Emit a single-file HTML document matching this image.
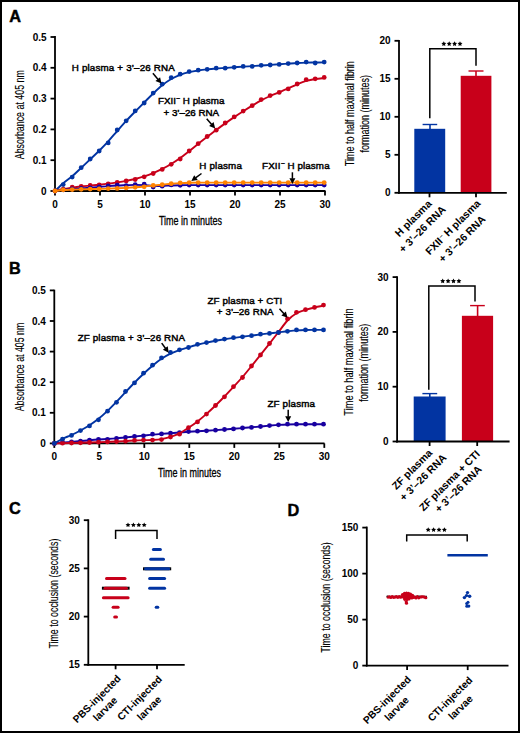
<!DOCTYPE html>
<html><head><meta charset="utf-8"><style>
html,body{margin:0;padding:0;background:#fff;width:520px;height:736px;overflow:hidden}
svg{display:block;font-family:"Liberation Sans",sans-serif}
.m{stroke:#000;stroke-width:0.45px}
.m2{stroke:#000;stroke-width:0.12px}
.m3{stroke:#000;stroke-width:0.3px}
</style></head><body>
<svg width="520" height="736" viewBox="0 0 520 736" font-family="Liberation Sans, sans-serif">
<rect x="0" y="0" width="520" height="736" fill="#fff"/>
<rect x="1" y="1" width="518" height="731" fill="none" stroke="#000" stroke-width="2"/>
<text x="9.30" y="21.60" font-size="16.30" text-anchor="start" font-weight="bold" class="m" fill="#000">A</text>
<text x="9.00" y="273.60" font-size="16.30" text-anchor="start" font-weight="bold" class="m" fill="#000">B</text>
<text x="9.00" y="514.40" font-size="16.30" text-anchor="start" font-weight="bold" class="m" fill="#000">C</text>
<text x="287.50" y="515.50" font-size="16.30" text-anchor="start" font-weight="bold" class="m" fill="#000">D</text>
<line x1="55.00" y1="36.10" x2="55.00" y2="191.90" stroke="#000" stroke-width="1.80"/>
<line x1="50.50" y1="191.00" x2="55.00" y2="191.00" stroke="#000" stroke-width="1.80"/>
<text x="46.40" y="194.50" font-size="10.00" text-anchor="end" font-weight="bold" letter-spacing="-0.10"  fill="#000">0</text>
<line x1="50.50" y1="160.20" x2="55.00" y2="160.20" stroke="#000" stroke-width="1.80"/>
<text x="46.40" y="163.70" font-size="10.00" text-anchor="end" font-weight="bold" letter-spacing="-0.10"  fill="#000">0.1</text>
<line x1="50.50" y1="129.40" x2="55.00" y2="129.40" stroke="#000" stroke-width="1.80"/>
<text x="46.40" y="132.90" font-size="10.00" text-anchor="end" font-weight="bold" letter-spacing="-0.10"  fill="#000">0.2</text>
<line x1="50.50" y1="98.60" x2="55.00" y2="98.60" stroke="#000" stroke-width="1.80"/>
<text x="46.40" y="102.10" font-size="10.00" text-anchor="end" font-weight="bold" letter-spacing="-0.10"  fill="#000">0.3</text>
<line x1="50.50" y1="67.80" x2="55.00" y2="67.80" stroke="#000" stroke-width="1.80"/>
<text x="46.40" y="71.30" font-size="10.00" text-anchor="end" font-weight="bold" letter-spacing="-0.10"  fill="#000">0.4</text>
<line x1="50.50" y1="37.00" x2="55.00" y2="37.00" stroke="#000" stroke-width="1.80"/>
<text x="46.40" y="40.50" font-size="10.00" text-anchor="end" font-weight="bold" letter-spacing="-0.10"  fill="#000">0.5</text>
<line x1="54.10" y1="191.00" x2="325.50" y2="191.00" stroke="#000" stroke-width="1.80"/>
<line x1="55.00" y1="191.00" x2="55.00" y2="195.50" stroke="#000" stroke-width="1.80"/>
<text x="54.95" y="208.00" font-size="10.00" text-anchor="middle" font-weight="bold" letter-spacing="-0.10"  fill="#000">0</text>
<line x1="100.00" y1="191.00" x2="100.00" y2="195.50" stroke="#000" stroke-width="1.80"/>
<text x="99.95" y="208.00" font-size="10.00" text-anchor="middle" font-weight="bold" letter-spacing="-0.10"  fill="#000">5</text>
<line x1="145.00" y1="191.00" x2="145.00" y2="195.50" stroke="#000" stroke-width="1.80"/>
<text x="144.95" y="208.00" font-size="10.00" text-anchor="middle" font-weight="bold" letter-spacing="-0.10"  fill="#000">10</text>
<line x1="190.00" y1="191.00" x2="190.00" y2="195.50" stroke="#000" stroke-width="1.80"/>
<text x="189.95" y="208.00" font-size="10.00" text-anchor="middle" font-weight="bold" letter-spacing="-0.10"  fill="#000">15</text>
<line x1="235.00" y1="191.00" x2="235.00" y2="195.50" stroke="#000" stroke-width="1.80"/>
<text x="234.95" y="208.00" font-size="10.00" text-anchor="middle" font-weight="bold" letter-spacing="-0.10"  fill="#000">20</text>
<line x1="280.00" y1="191.00" x2="280.00" y2="195.50" stroke="#000" stroke-width="1.80"/>
<text x="279.95" y="208.00" font-size="10.00" text-anchor="middle" font-weight="bold" letter-spacing="-0.10"  fill="#000">25</text>
<line x1="325.00" y1="191.00" x2="325.00" y2="195.50" stroke="#000" stroke-width="1.80"/>
<text x="324.95" y="208.00" font-size="10.00" text-anchor="middle" font-weight="bold" letter-spacing="-0.10"  fill="#000">30</text>
<text x="190.45" y="224.80" font-size="12.50" text-anchor="middle" font-weight="normal" textLength="63.0" lengthAdjust="spacingAndGlyphs" class="m3" fill="#000">Time in minutes</text>
<text class="m2" transform="translate(24.0,114.7) rotate(-90)" x="0" y="0" font-size="12" text-anchor="middle" textLength="89" lengthAdjust="spacingAndGlyphs" fill="#000">Absorbance at 405 nm</text>
<path d="M55.00,191.00 C56.37,189.70 60.33,185.67 63.20,183.22 C66.07,180.77 69.20,178.85 72.20,176.29 C75.20,173.73 78.20,170.71 81.20,167.87 C84.20,165.03 87.20,162.12 90.20,159.26 C93.20,156.40 96.20,153.70 99.20,150.72 C102.20,147.74 105.20,144.67 108.20,141.38 C111.20,138.10 114.20,134.42 117.20,131.01 C120.20,127.59 123.20,124.13 126.20,120.87 C129.20,117.62 132.20,114.55 135.20,111.48 C138.20,108.41 141.20,105.47 144.20,102.47 C147.20,99.48 150.20,96.37 153.20,93.51 C156.20,90.65 159.20,87.74 162.20,85.32 C165.20,82.90 168.20,80.76 171.20,79.01 C174.20,77.26 177.20,75.95 180.20,74.81 C183.20,73.66 186.20,72.86 189.20,72.14 C192.20,71.41 195.20,70.92 198.20,70.45 C201.20,69.99 204.20,69.65 207.20,69.33 C210.20,69.01 213.20,68.76 216.20,68.53 C219.20,68.30 222.20,68.15 225.20,67.95 C228.20,67.74 231.20,67.51 234.20,67.30 C237.20,67.09 240.20,66.86 243.20,66.66 C246.20,66.46 249.20,66.30 252.20,66.11 C255.20,65.91 258.20,65.70 261.20,65.51 C264.20,65.31 267.20,65.12 270.20,64.92 C273.20,64.73 276.20,64.54 279.20,64.32 C282.20,64.11 285.20,63.87 288.20,63.65 C291.20,63.43 294.20,63.18 297.20,63.01 C300.20,62.84 303.20,62.71 306.20,62.63 C309.20,62.55 312.20,62.58 315.20,62.54 C318.20,62.51 322.70,62.44 324.20,62.42" fill="none" stroke="#0234A2" stroke-width="1.90" stroke-linejoin="round"/>
<circle cx="55.00" cy="191.00" r="2.40" fill="#0234A2"/>
<circle cx="63.20" cy="184.60" r="2.40" fill="#0234A2"/>
<circle cx="72.20" cy="177.10" r="2.40" fill="#0234A2"/>
<circle cx="81.20" cy="167.70" r="2.40" fill="#0234A2"/>
<circle cx="90.20" cy="159.00" r="2.40" fill="#0234A2"/>
<circle cx="99.20" cy="151.00" r="2.40" fill="#0234A2"/>
<circle cx="108.20" cy="142.90" r="2.40" fill="#0234A2"/>
<circle cx="117.20" cy="130.00" r="2.40" fill="#0234A2"/>
<circle cx="126.20" cy="120.80" r="2.40" fill="#0234A2"/>
<circle cx="135.20" cy="110.90" r="2.40" fill="#0234A2"/>
<circle cx="144.20" cy="103.00" r="2.40" fill="#0234A2"/>
<circle cx="153.20" cy="93.10" r="2.40" fill="#0234A2"/>
<circle cx="162.20" cy="84.20" r="2.40" fill="#0234A2"/>
<circle cx="171.20" cy="77.70" r="2.40" fill="#0234A2"/>
<circle cx="180.20" cy="74.20" r="2.40" fill="#0234A2"/>
<circle cx="189.20" cy="71.60" r="2.40" fill="#0234A2"/>
<circle cx="198.20" cy="70.20" r="2.40" fill="#0234A2"/>
<circle cx="207.20" cy="69.30" r="2.40" fill="#0234A2"/>
<circle cx="216.20" cy="68.20" r="2.40" fill="#0234A2"/>
<circle cx="225.20" cy="68.20" r="2.40" fill="#0234A2"/>
<circle cx="234.20" cy="67.30" r="2.40" fill="#0234A2"/>
<circle cx="243.20" cy="66.40" r="2.40" fill="#0234A2"/>
<circle cx="252.20" cy="66.40" r="2.40" fill="#0234A2"/>
<circle cx="261.20" cy="65.30" r="2.40" fill="#0234A2"/>
<circle cx="270.20" cy="65.00" r="2.40" fill="#0234A2"/>
<circle cx="279.20" cy="64.40" r="2.40" fill="#0234A2"/>
<circle cx="288.20" cy="63.60" r="2.40" fill="#0234A2"/>
<circle cx="297.20" cy="63.00" r="2.40" fill="#0234A2"/>
<circle cx="306.20" cy="62.10" r="2.40" fill="#0234A2"/>
<circle cx="315.20" cy="63.00" r="2.40" fill="#0234A2"/>
<circle cx="324.20" cy="62.10" r="2.40" fill="#0234A2"/>
<path d="M55.00,191.00 C56.37,190.66 60.33,189.54 63.20,188.98 C66.07,188.41 69.20,188.03 72.20,187.62 C75.20,187.20 78.20,186.83 81.20,186.49 C84.20,186.15 87.20,185.88 90.20,185.58 C93.20,185.28 96.20,185.01 99.20,184.69 C102.20,184.37 105.20,184.04 108.20,183.66 C111.20,183.27 114.20,182.84 117.20,182.38 C120.20,181.91 123.20,181.43 126.20,180.87 C129.20,180.30 132.20,179.73 135.20,179.00 C138.20,178.26 141.20,177.43 144.20,176.45 C147.20,175.46 150.20,174.35 153.20,173.10 C156.20,171.85 159.20,170.48 162.20,168.96 C165.20,167.44 168.20,165.81 171.20,163.99 C174.20,162.17 177.20,160.20 180.20,158.05 C183.20,155.90 186.20,153.46 189.20,151.09 C192.20,148.72 195.20,146.21 198.20,143.82 C201.20,141.44 204.20,139.09 207.20,136.78 C210.20,134.48 213.20,132.24 216.20,130.00 C219.20,127.77 222.20,125.52 225.20,123.37 C228.20,121.22 231.20,119.12 234.20,117.10 C237.20,115.07 240.20,113.15 243.20,111.24 C246.20,109.32 249.20,107.42 252.20,105.61 C255.20,103.80 258.20,101.97 261.20,100.37 C264.20,98.77 267.20,97.35 270.20,96.00 C273.20,94.64 276.20,93.53 279.20,92.27 C282.20,91.01 285.20,89.75 288.20,88.43 C291.20,87.11 294.20,85.59 297.20,84.34 C300.20,83.10 303.20,81.85 306.20,80.96 C309.20,80.07 312.20,79.49 315.20,79.02 C318.20,78.54 322.70,78.26 324.20,78.11" fill="none" stroke="#C8001A" stroke-width="1.90" stroke-linejoin="round"/>
<circle cx="55.00" cy="191.00" r="2.40" fill="#C8001A"/>
<circle cx="63.20" cy="189.20" r="2.40" fill="#C8001A"/>
<circle cx="72.20" cy="187.20" r="2.40" fill="#C8001A"/>
<circle cx="81.20" cy="186.50" r="2.40" fill="#C8001A"/>
<circle cx="90.20" cy="185.50" r="2.40" fill="#C8001A"/>
<circle cx="99.20" cy="184.80" r="2.40" fill="#C8001A"/>
<circle cx="108.20" cy="183.80" r="2.40" fill="#C8001A"/>
<circle cx="117.20" cy="182.50" r="2.40" fill="#C8001A"/>
<circle cx="126.20" cy="180.90" r="2.40" fill="#C8001A"/>
<circle cx="135.20" cy="179.50" r="2.40" fill="#C8001A"/>
<circle cx="144.20" cy="176.80" r="2.40" fill="#C8001A"/>
<circle cx="153.20" cy="173.50" r="2.40" fill="#C8001A"/>
<circle cx="162.20" cy="169.40" r="2.40" fill="#C8001A"/>
<circle cx="171.20" cy="164.30" r="2.40" fill="#C8001A"/>
<circle cx="180.20" cy="159.00" r="2.40" fill="#C8001A"/>
<circle cx="189.20" cy="151.00" r="2.40" fill="#C8001A"/>
<circle cx="198.20" cy="143.70" r="2.40" fill="#C8001A"/>
<circle cx="207.20" cy="136.50" r="2.40" fill="#C8001A"/>
<circle cx="216.20" cy="130.20" r="2.40" fill="#C8001A"/>
<circle cx="225.20" cy="123.00" r="2.40" fill="#C8001A"/>
<circle cx="234.20" cy="116.90" r="2.40" fill="#C8001A"/>
<circle cx="243.20" cy="111.10" r="2.40" fill="#C8001A"/>
<circle cx="252.20" cy="105.70" r="2.40" fill="#C8001A"/>
<circle cx="261.20" cy="99.60" r="2.40" fill="#C8001A"/>
<circle cx="270.20" cy="95.60" r="2.40" fill="#C8001A"/>
<circle cx="279.20" cy="92.40" r="2.40" fill="#C8001A"/>
<circle cx="288.20" cy="88.90" r="2.40" fill="#C8001A"/>
<circle cx="297.20" cy="84.00" r="2.40" fill="#C8001A"/>
<circle cx="306.20" cy="79.70" r="2.40" fill="#C8001A"/>
<circle cx="315.20" cy="78.80" r="2.40" fill="#C8001A"/>
<circle cx="324.20" cy="77.40" r="2.40" fill="#C8001A"/>
<path d="M55.00,191.00 C56.37,190.80 60.33,190.13 63.20,189.82 C66.07,189.51 69.20,189.34 72.20,189.12 C75.20,188.90 78.20,188.70 81.20,188.49 C84.20,188.27 87.20,188.07 90.20,187.82 C93.20,187.57 96.20,187.27 99.20,186.99 C102.20,186.71 105.20,186.38 108.20,186.14 C111.20,185.90 114.20,185.72 117.20,185.56 C120.20,185.41 123.20,185.33 126.20,185.22 C129.20,185.11 132.20,184.93 135.20,184.92 C138.20,184.91 141.20,185.01 144.20,185.17 C147.20,185.32 150.20,185.75 153.20,185.87 C156.20,186.00 159.20,185.98 162.20,185.91 C165.20,185.84 168.20,185.55 171.20,185.43 C174.20,185.31 177.20,185.25 180.20,185.20 C183.20,185.15 186.20,185.16 189.20,185.14 C192.20,185.13 195.20,185.12 198.20,185.11 C201.20,185.10 204.20,185.10 207.20,185.10 C210.20,185.10 213.20,185.10 216.20,185.10 C219.20,185.10 222.20,185.10 225.20,185.10 C228.20,185.10 231.20,185.10 234.20,185.10 C237.20,185.10 240.20,185.10 243.20,185.10 C246.20,185.10 249.20,185.10 252.20,185.10 C255.20,185.10 258.20,185.10 261.20,185.10 C264.20,185.10 267.20,185.10 270.20,185.10 C273.20,185.10 276.20,185.10 279.20,185.10 C282.20,185.10 285.20,185.10 288.20,185.10 C291.20,185.10 294.20,185.10 297.20,185.10 C300.20,185.10 303.20,185.10 306.20,185.10 C309.20,185.10 312.20,185.10 315.20,185.10 C318.20,185.10 322.70,185.10 324.20,185.10" fill="none" stroke="#1800A0" stroke-width="1.90" stroke-linejoin="round"/>
<circle cx="55.00" cy="191.00" r="2.40" fill="#1800A0"/>
<circle cx="63.20" cy="189.80" r="2.40" fill="#1800A0"/>
<circle cx="72.20" cy="189.00" r="2.40" fill="#1800A0"/>
<circle cx="81.20" cy="188.50" r="2.40" fill="#1800A0"/>
<circle cx="90.20" cy="188.00" r="2.40" fill="#1800A0"/>
<circle cx="99.20" cy="187.00" r="2.40" fill="#1800A0"/>
<circle cx="108.20" cy="186.00" r="2.40" fill="#1800A0"/>
<circle cx="117.20" cy="185.20" r="2.40" fill="#1800A0"/>
<circle cx="126.20" cy="185.60" r="2.40" fill="#1800A0"/>
<circle cx="135.20" cy="184.60" r="2.40" fill="#1800A0"/>
<circle cx="144.20" cy="184.20" r="2.40" fill="#1800A0"/>
<circle cx="153.20" cy="187.00" r="2.40" fill="#1800A0"/>
<circle cx="162.20" cy="186.20" r="2.40" fill="#1800A0"/>
<circle cx="171.20" cy="184.90" r="2.40" fill="#1800A0"/>
<circle cx="180.20" cy="185.30" r="2.40" fill="#1800A0"/>
<circle cx="189.20" cy="185.10" r="2.40" fill="#1800A0"/>
<circle cx="198.20" cy="185.10" r="2.40" fill="#1800A0"/>
<circle cx="207.20" cy="185.10" r="2.40" fill="#1800A0"/>
<circle cx="216.20" cy="185.10" r="2.40" fill="#1800A0"/>
<circle cx="225.20" cy="185.10" r="2.40" fill="#1800A0"/>
<circle cx="234.20" cy="185.10" r="2.40" fill="#1800A0"/>
<circle cx="243.20" cy="185.10" r="2.40" fill="#1800A0"/>
<circle cx="252.20" cy="185.10" r="2.40" fill="#1800A0"/>
<circle cx="261.20" cy="185.10" r="2.40" fill="#1800A0"/>
<circle cx="270.20" cy="185.10" r="2.40" fill="#1800A0"/>
<circle cx="279.20" cy="185.10" r="2.40" fill="#1800A0"/>
<circle cx="288.20" cy="185.10" r="2.40" fill="#1800A0"/>
<circle cx="297.20" cy="185.10" r="2.40" fill="#1800A0"/>
<circle cx="306.20" cy="185.10" r="2.40" fill="#1800A0"/>
<circle cx="315.20" cy="185.10" r="2.40" fill="#1800A0"/>
<circle cx="324.20" cy="185.10" r="2.40" fill="#1800A0"/>
<path d="M55.00,191.00 C56.37,190.84 60.33,190.25 63.20,190.02 C66.07,189.80 69.20,189.74 72.20,189.62 C75.20,189.51 78.20,189.42 81.20,189.34 C84.20,189.26 87.20,189.20 90.20,189.12 C93.20,189.05 96.20,188.99 99.20,188.91 C102.20,188.83 105.20,188.74 108.20,188.63 C111.20,188.53 114.20,188.43 117.20,188.30 C120.20,188.16 123.20,188.02 126.20,187.85 C129.20,187.68 132.20,187.50 135.20,187.27 C138.20,187.05 141.20,186.80 144.20,186.52 C147.20,186.24 150.20,185.89 153.20,185.58 C156.20,185.27 159.20,184.94 162.20,184.65 C165.20,184.35 168.20,184.05 171.20,183.79 C174.20,183.53 177.20,183.29 180.20,183.11 C183.20,182.94 186.20,182.82 189.20,182.74 C192.20,182.66 195.20,182.64 198.20,182.62 C201.20,182.60 204.20,182.61 207.20,182.60 C210.20,182.60 213.20,182.60 216.20,182.60 C219.20,182.60 222.20,182.60 225.20,182.60 C228.20,182.60 231.20,182.60 234.20,182.60 C237.20,182.60 240.20,182.60 243.20,182.60 C246.20,182.60 249.20,182.60 252.20,182.60 C255.20,182.60 258.20,182.60 261.20,182.60 C264.20,182.60 267.20,182.60 270.20,182.60 C273.20,182.60 276.20,182.60 279.20,182.60 C282.20,182.60 285.20,182.60 288.20,182.60 C291.20,182.60 294.20,182.60 297.20,182.60 C300.20,182.60 303.20,182.60 306.20,182.60 C309.20,182.60 312.20,182.60 315.20,182.60 C318.20,182.60 322.70,182.60 324.20,182.60" fill="none" stroke="#FF8200" stroke-width="1.90" stroke-linejoin="round"/>
<circle cx="55.00" cy="191.00" r="2.40" fill="#FF8200"/>
<circle cx="63.20" cy="189.80" r="2.40" fill="#FF8200"/>
<circle cx="72.20" cy="189.60" r="2.40" fill="#FF8200"/>
<circle cx="81.20" cy="189.30" r="2.40" fill="#FF8200"/>
<circle cx="90.20" cy="189.10" r="2.40" fill="#FF8200"/>
<circle cx="99.20" cy="189.00" r="2.40" fill="#FF8200"/>
<circle cx="108.20" cy="188.60" r="2.40" fill="#FF8200"/>
<circle cx="117.20" cy="188.40" r="2.40" fill="#FF8200"/>
<circle cx="126.20" cy="187.90" r="2.40" fill="#FF8200"/>
<circle cx="135.20" cy="187.30" r="2.40" fill="#FF8200"/>
<circle cx="144.20" cy="186.80" r="2.40" fill="#FF8200"/>
<circle cx="153.20" cy="185.40" r="2.40" fill="#FF8200"/>
<circle cx="162.20" cy="184.70" r="2.40" fill="#FF8200"/>
<circle cx="171.20" cy="183.70" r="2.40" fill="#FF8200"/>
<circle cx="180.20" cy="182.90" r="2.40" fill="#FF8200"/>
<circle cx="189.20" cy="182.60" r="2.40" fill="#FF8200"/>
<circle cx="198.20" cy="182.60" r="2.40" fill="#FF8200"/>
<circle cx="207.20" cy="182.60" r="2.40" fill="#FF8200"/>
<circle cx="216.20" cy="182.60" r="2.40" fill="#FF8200"/>
<circle cx="225.20" cy="182.60" r="2.40" fill="#FF8200"/>
<circle cx="234.20" cy="182.60" r="2.40" fill="#FF8200"/>
<circle cx="243.20" cy="182.60" r="2.40" fill="#FF8200"/>
<circle cx="252.20" cy="182.60" r="2.40" fill="#FF8200"/>
<circle cx="261.20" cy="182.60" r="2.40" fill="#FF8200"/>
<circle cx="270.20" cy="182.60" r="2.40" fill="#FF8200"/>
<circle cx="279.20" cy="182.60" r="2.40" fill="#FF8200"/>
<circle cx="288.20" cy="182.60" r="2.40" fill="#FF8200"/>
<circle cx="297.20" cy="182.60" r="2.40" fill="#FF8200"/>
<circle cx="306.20" cy="182.60" r="2.40" fill="#FF8200"/>
<circle cx="315.20" cy="182.60" r="2.40" fill="#FF8200"/>
<circle cx="324.20" cy="182.60" r="2.40" fill="#FF8200"/>
<text x="71.80" y="70.80" font-size="9.80" text-anchor="start" font-weight="normal" textLength="103.0" lengthAdjust="spacing" class="m" fill="#000">H plasma + 3’–26 RNA</text>
<line x1="152.90" y1="73.30" x2="158.10" y2="79.53" stroke="#000" stroke-width="1.50"/>
<path d="M161.50,83.60 L155.48,81.07 L160.09,77.23 Z" fill="#000"/>
<text x="157.90" y="103.90" font-size="9.80" text-anchor="start" font-weight="normal" textLength="66.5" lengthAdjust="spacing" class="m" fill="#000">FXII<tspan font-size="6" dx="0.6" dy="-4">‒</tspan><tspan dy="4"> H plasma</tspan></text>
<text x="191.30" y="115.90" font-size="9.80" text-anchor="middle" font-weight="normal" textLength="55.5" lengthAdjust="spacing" class="m" fill="#000">+ 3’–26 RNA</text>
<line x1="206.70" y1="118.80" x2="211.69" y2="124.43" stroke="#000" stroke-width="1.50"/>
<path d="M215.20,128.40 L209.11,126.05 L213.60,122.07 Z" fill="#000"/>
<text x="199.30" y="168.60" font-size="9.80" text-anchor="start" font-weight="normal" textLength="42.6" lengthAdjust="spacing" class="m" fill="#000">H plasma</text>
<line x1="201.50" y1="173.50" x2="195.57" y2="177.86" stroke="#000" stroke-width="1.50"/>
<path d="M191.30,181.00 L194.20,175.15 L197.75,179.98 Z" fill="#000"/>
<text x="262.10" y="168.90" font-size="9.80" text-anchor="start" font-weight="normal" textLength="67.5" lengthAdjust="spacing" class="m" fill="#000">FXII<tspan font-size="6" dx="0.6" dy="-4">‒</tspan><tspan dy="4"> H plasma</tspan></text>
<line x1="292.40" y1="172.30" x2="292.40" y2="178.70" stroke="#000" stroke-width="1.50"/>
<path d="M292.40,184.00 L289.40,178.20 L295.40,178.20 Z" fill="#000"/>
<line x1="399.00" y1="39.95" x2="399.00" y2="193.70" stroke="#000" stroke-width="1.80"/>
<line x1="394.50" y1="192.80" x2="399.00" y2="192.80" stroke="#000" stroke-width="1.80"/>
<text x="390.40" y="196.30" font-size="10.00" text-anchor="end" font-weight="bold" letter-spacing="-0.10"  fill="#000">0</text>
<line x1="394.50" y1="154.80" x2="399.00" y2="154.80" stroke="#000" stroke-width="1.80"/>
<text x="390.40" y="158.30" font-size="10.00" text-anchor="end" font-weight="bold" letter-spacing="-0.10"  fill="#000">5</text>
<line x1="394.50" y1="116.80" x2="399.00" y2="116.80" stroke="#000" stroke-width="1.80"/>
<text x="390.40" y="120.30" font-size="10.00" text-anchor="end" font-weight="bold" letter-spacing="-0.10"  fill="#000">10</text>
<line x1="394.50" y1="78.80" x2="399.00" y2="78.80" stroke="#000" stroke-width="1.80"/>
<text x="390.40" y="82.30" font-size="10.00" text-anchor="end" font-weight="bold" letter-spacing="-0.10"  fill="#000">15</text>
<line x1="394.50" y1="40.80" x2="399.00" y2="40.80" stroke="#000" stroke-width="1.80"/>
<text x="390.40" y="44.30" font-size="10.00" text-anchor="end" font-weight="bold" letter-spacing="-0.10"  fill="#000">20</text>
<rect x="414.3" y="128.8" width="30.9" height="64.00" fill="#0234A2"/>
<rect x="460.7" y="75.8" width="30.7" height="117.00" fill="#C8001A"/>
<line x1="430.00" y1="124.50" x2="430.00" y2="129.50" stroke="#0234A2" stroke-width="1.60"/>
<line x1="422.60" y1="124.50" x2="437.20" y2="124.50" stroke="#0234A2" stroke-width="1.40"/>
<line x1="476.00" y1="71.00" x2="476.00" y2="76.50" stroke="#C8001A" stroke-width="1.60"/>
<line x1="468.50" y1="71.00" x2="483.50" y2="71.00" stroke="#C8001A" stroke-width="1.40"/>
<line x1="398.10" y1="192.80" x2="506.80" y2="192.80" stroke="#000" stroke-width="1.80"/>
<line x1="429.50" y1="192.80" x2="429.50" y2="197.30" stroke="#000" stroke-width="1.80"/>
<line x1="476.00" y1="192.80" x2="476.00" y2="197.30" stroke="#000" stroke-width="1.80"/>
<path d="M429.8,118.2 V48.7 H476.0 V65.8" fill="none" stroke="#000" stroke-width="1.5"/>
<polygon points="443.80,41.30 444.56,42.85 446.27,43.10 445.04,44.30 445.33,46.00 443.80,45.20 442.27,46.00 442.56,44.30 441.33,43.10 443.04,42.85" fill="#000"/>
<polygon points="449.20,41.30 449.96,42.85 451.67,43.10 450.44,44.30 450.73,46.00 449.20,45.20 447.67,46.00 447.96,44.30 446.73,43.10 448.44,42.85" fill="#000"/>
<polygon points="454.60,41.30 455.36,42.85 457.07,43.10 455.84,44.30 456.13,46.00 454.60,45.20 453.07,46.00 453.36,44.30 452.13,43.10 453.84,42.85" fill="#000"/>
<polygon points="460.00,41.30 460.76,42.85 462.47,43.10 461.24,44.30 461.53,46.00 460.00,45.20 458.47,46.00 458.76,44.30 457.53,43.10 459.24,42.85" fill="#000"/>
<text class="m2" transform="translate(353.6,113.7) rotate(-90)" font-size="12.5" text-anchor="middle" textLength="105" lengthAdjust="spacingAndGlyphs" fill="#000">Time to half maximal fibrin</text>
<text class="m2" transform="translate(368.9,113.7) rotate(-90)" font-size="12.5" text-anchor="middle" textLength="77.4" lengthAdjust="spacingAndGlyphs" fill="#000">formation (minutes)</text>
<text transform="translate(415.80,221.00) rotate(-45)" x="0" y="0" font-size="10.50" text-anchor="middle" font-weight="bold" fill="#000">H plasma</text>
<text transform="translate(424.80,231.60) rotate(-45)" x="0" y="0" font-size="10.50" text-anchor="middle" font-weight="bold" fill="#000">+ 3’–26 RNA</text>
<text transform="translate(455.40,229.80) rotate(-45)" x="0" y="0" font-size="10.50" text-anchor="middle" font-weight="bold" fill="#000">FXII<tspan font-size="6" dx="0.6" dy="-4">‒</tspan><tspan dy="4"> H plasma</tspan></text>
<text transform="translate(464.60,241.40) rotate(-45)" x="0" y="0" font-size="10.50" text-anchor="middle" font-weight="bold" fill="#000">+ 3’–26 RNA</text>
<line x1="54.30" y1="289.70" x2="54.30" y2="444.30" stroke="#000" stroke-width="1.80"/>
<line x1="49.80" y1="443.40" x2="54.30" y2="443.40" stroke="#000" stroke-width="1.80"/>
<text x="45.70" y="446.90" font-size="10.00" text-anchor="end" font-weight="bold" letter-spacing="-0.10"  fill="#000">0</text>
<line x1="49.80" y1="412.80" x2="54.30" y2="412.80" stroke="#000" stroke-width="1.80"/>
<text x="45.70" y="416.30" font-size="10.00" text-anchor="end" font-weight="bold" letter-spacing="-0.10"  fill="#000">0.1</text>
<line x1="49.80" y1="382.20" x2="54.30" y2="382.20" stroke="#000" stroke-width="1.80"/>
<text x="45.70" y="385.70" font-size="10.00" text-anchor="end" font-weight="bold" letter-spacing="-0.10"  fill="#000">0.2</text>
<line x1="49.80" y1="351.60" x2="54.30" y2="351.60" stroke="#000" stroke-width="1.80"/>
<text x="45.70" y="355.10" font-size="10.00" text-anchor="end" font-weight="bold" letter-spacing="-0.10"  fill="#000">0.3</text>
<line x1="49.80" y1="321.00" x2="54.30" y2="321.00" stroke="#000" stroke-width="1.80"/>
<text x="45.70" y="324.50" font-size="10.00" text-anchor="end" font-weight="bold" letter-spacing="-0.10"  fill="#000">0.4</text>
<line x1="49.80" y1="290.40" x2="54.30" y2="290.40" stroke="#000" stroke-width="1.80"/>
<text x="45.70" y="293.90" font-size="10.00" text-anchor="end" font-weight="bold" letter-spacing="-0.10"  fill="#000">0.5</text>
<line x1="53.40" y1="443.40" x2="324.50" y2="443.40" stroke="#000" stroke-width="1.80"/>
<line x1="54.30" y1="443.40" x2="54.30" y2="447.90" stroke="#000" stroke-width="1.80"/>
<text x="54.25" y="460.40" font-size="10.00" text-anchor="middle" font-weight="bold" letter-spacing="-0.10"  fill="#000">0</text>
<line x1="99.30" y1="443.40" x2="99.30" y2="447.90" stroke="#000" stroke-width="1.80"/>
<text x="99.25" y="460.40" font-size="10.00" text-anchor="middle" font-weight="bold" letter-spacing="-0.10"  fill="#000">5</text>
<line x1="144.30" y1="443.40" x2="144.30" y2="447.90" stroke="#000" stroke-width="1.80"/>
<text x="144.25" y="460.40" font-size="10.00" text-anchor="middle" font-weight="bold" letter-spacing="-0.10"  fill="#000">10</text>
<line x1="189.30" y1="443.40" x2="189.30" y2="447.90" stroke="#000" stroke-width="1.80"/>
<text x="189.25" y="460.40" font-size="10.00" text-anchor="middle" font-weight="bold" letter-spacing="-0.10"  fill="#000">15</text>
<line x1="234.30" y1="443.40" x2="234.30" y2="447.90" stroke="#000" stroke-width="1.80"/>
<text x="234.25" y="460.40" font-size="10.00" text-anchor="middle" font-weight="bold" letter-spacing="-0.10"  fill="#000">20</text>
<line x1="279.30" y1="443.40" x2="279.30" y2="447.90" stroke="#000" stroke-width="1.80"/>
<text x="279.25" y="460.40" font-size="10.00" text-anchor="middle" font-weight="bold" letter-spacing="-0.10"  fill="#000">25</text>
<line x1="324.30" y1="443.40" x2="324.30" y2="447.90" stroke="#000" stroke-width="1.80"/>
<text x="324.25" y="460.40" font-size="10.00" text-anchor="middle" font-weight="bold" letter-spacing="-0.10"  fill="#000">30</text>
<text x="189.45" y="477.00" font-size="12.50" text-anchor="middle" font-weight="normal" textLength="63.0" lengthAdjust="spacingAndGlyphs" class="m3" fill="#000">Time in minutes</text>
<text class="m2" transform="translate(23.8,367) rotate(-90)" x="0" y="0" font-size="12" text-anchor="middle" textLength="88.5" lengthAdjust="spacingAndGlyphs" fill="#000">Absorbance at 405 nm</text>
<path d="M54.30,443.40 C55.67,443.25 59.63,442.75 62.50,442.49 C65.37,442.23 68.50,442.08 71.50,441.85 C74.50,441.61 77.50,441.34 80.50,441.07 C83.50,440.80 86.50,440.48 89.50,440.23 C92.50,439.98 95.50,439.75 98.50,439.56 C101.50,439.36 104.50,439.24 107.50,439.04 C110.50,438.83 113.50,438.60 116.50,438.33 C119.50,438.06 122.50,437.72 125.50,437.42 C128.50,437.11 131.50,436.82 134.50,436.51 C137.50,436.20 140.50,435.88 143.50,435.56 C146.50,435.24 149.50,434.88 152.50,434.59 C155.50,434.31 158.50,434.07 161.50,433.84 C164.50,433.61 167.50,433.43 170.50,433.21 C173.50,432.99 176.50,432.75 179.50,432.51 C182.50,432.27 185.50,431.99 188.50,431.78 C191.50,431.56 194.50,431.38 197.50,431.20 C200.50,431.03 203.50,430.89 206.50,430.72 C209.50,430.54 212.50,430.36 215.50,430.16 C218.50,429.95 221.50,429.74 224.50,429.51 C227.50,429.29 230.50,429.05 233.50,428.81 C236.50,428.57 239.50,428.32 242.50,428.07 C245.50,427.82 248.50,427.57 251.50,427.31 C254.50,427.05 257.50,426.77 260.50,426.49 C263.50,426.21 266.50,425.91 269.50,425.65 C272.50,425.39 275.50,425.12 278.50,424.92 C281.50,424.71 284.50,424.54 287.50,424.43 C290.50,424.32 293.50,424.28 296.50,424.24 C299.50,424.20 302.50,424.21 305.50,424.20 C308.50,424.20 311.50,424.20 314.50,424.20 C317.50,424.20 322.00,424.20 323.50,424.20" fill="none" stroke="#1800A0" stroke-width="1.90" stroke-linejoin="round"/>
<circle cx="54.30" cy="443.40" r="2.40" fill="#1800A0"/>
<circle cx="62.50" cy="442.50" r="2.40" fill="#1800A0"/>
<circle cx="71.50" cy="441.90" r="2.40" fill="#1800A0"/>
<circle cx="80.50" cy="441.20" r="2.40" fill="#1800A0"/>
<circle cx="89.50" cy="440.10" r="2.40" fill="#1800A0"/>
<circle cx="98.50" cy="439.30" r="2.40" fill="#1800A0"/>
<circle cx="107.50" cy="439.30" r="2.40" fill="#1800A0"/>
<circle cx="116.50" cy="438.50" r="2.40" fill="#1800A0"/>
<circle cx="125.50" cy="437.30" r="2.40" fill="#1800A0"/>
<circle cx="134.50" cy="436.50" r="2.40" fill="#1800A0"/>
<circle cx="143.50" cy="435.80" r="2.40" fill="#1800A0"/>
<circle cx="152.50" cy="434.20" r="2.40" fill="#1800A0"/>
<circle cx="161.50" cy="433.90" r="2.40" fill="#1800A0"/>
<circle cx="170.50" cy="433.20" r="2.40" fill="#1800A0"/>
<circle cx="179.50" cy="432.70" r="2.40" fill="#1800A0"/>
<circle cx="188.50" cy="431.50" r="2.40" fill="#1800A0"/>
<circle cx="197.50" cy="431.20" r="2.40" fill="#1800A0"/>
<circle cx="206.50" cy="430.80" r="2.40" fill="#1800A0"/>
<circle cx="215.50" cy="430.20" r="2.40" fill="#1800A0"/>
<circle cx="224.50" cy="429.50" r="2.40" fill="#1800A0"/>
<circle cx="233.50" cy="428.90" r="2.40" fill="#1800A0"/>
<circle cx="242.50" cy="428.00" r="2.40" fill="#1800A0"/>
<circle cx="251.50" cy="427.40" r="2.40" fill="#1800A0"/>
<circle cx="260.50" cy="426.50" r="2.40" fill="#1800A0"/>
<circle cx="269.50" cy="425.60" r="2.40" fill="#1800A0"/>
<circle cx="278.50" cy="424.80" r="2.40" fill="#1800A0"/>
<circle cx="287.50" cy="424.20" r="2.40" fill="#1800A0"/>
<circle cx="296.50" cy="424.20" r="2.40" fill="#1800A0"/>
<circle cx="305.50" cy="424.20" r="2.40" fill="#1800A0"/>
<circle cx="314.50" cy="424.20" r="2.40" fill="#1800A0"/>
<circle cx="323.50" cy="424.20" r="2.40" fill="#1800A0"/>
<path d="M54.30,443.40 C55.67,443.37 59.63,443.26 62.50,443.20 C65.37,443.13 68.50,443.07 71.50,443.00 C74.50,442.93 77.50,442.86 80.50,442.78 C83.50,442.69 86.50,442.60 89.50,442.50 C92.50,442.40 95.50,442.30 98.50,442.20 C101.50,442.10 104.50,442.00 107.50,441.90 C110.50,441.79 113.50,441.70 116.50,441.57 C119.50,441.44 122.50,441.29 125.50,441.11 C128.50,440.94 131.50,440.67 134.50,440.51 C137.50,440.35 140.50,440.26 143.50,440.17 C146.50,440.08 149.50,440.14 152.50,439.97 C155.50,439.80 158.50,439.63 161.50,439.12 C164.50,438.61 167.50,437.86 170.50,436.90 C173.50,435.94 176.50,434.89 179.50,433.37 C182.50,431.86 185.50,429.79 188.50,427.80 C191.50,425.81 194.50,423.77 197.50,421.45 C200.50,419.13 203.50,416.57 206.50,413.90 C209.50,411.23 212.50,408.36 215.50,405.46 C218.50,402.55 221.50,399.59 224.50,396.49 C227.50,393.39 230.50,390.12 233.50,386.87 C236.50,383.62 239.50,380.46 242.50,377.00 C245.50,373.53 248.50,369.77 251.50,366.09 C254.50,362.40 257.50,358.65 260.50,354.90 C263.50,351.15 266.50,347.40 269.50,343.58 C272.50,339.76 275.50,335.84 278.50,331.99 C281.50,328.14 284.50,323.61 287.50,320.49 C290.50,317.37 293.50,315.05 296.50,313.27 C299.50,311.49 302.50,310.78 305.50,309.81 C308.50,308.84 311.50,308.12 314.50,307.45 C317.50,306.77 322.00,306.04 323.50,305.76" fill="none" stroke="#C8001A" stroke-width="1.90" stroke-linejoin="round"/>
<circle cx="54.30" cy="443.40" r="2.40" fill="#C8001A"/>
<circle cx="62.50" cy="443.20" r="2.40" fill="#C8001A"/>
<circle cx="71.50" cy="443.00" r="2.40" fill="#C8001A"/>
<circle cx="80.50" cy="442.80" r="2.40" fill="#C8001A"/>
<circle cx="89.50" cy="442.50" r="2.40" fill="#C8001A"/>
<circle cx="98.50" cy="442.20" r="2.40" fill="#C8001A"/>
<circle cx="107.50" cy="441.90" r="2.40" fill="#C8001A"/>
<circle cx="116.50" cy="441.60" r="2.40" fill="#C8001A"/>
<circle cx="125.50" cy="441.20" r="2.40" fill="#C8001A"/>
<circle cx="134.50" cy="440.40" r="2.40" fill="#C8001A"/>
<circle cx="143.50" cy="440.10" r="2.40" fill="#C8001A"/>
<circle cx="152.50" cy="440.10" r="2.40" fill="#C8001A"/>
<circle cx="161.50" cy="439.60" r="2.40" fill="#C8001A"/>
<circle cx="170.50" cy="437.00" r="2.40" fill="#C8001A"/>
<circle cx="179.50" cy="434.20" r="2.40" fill="#C8001A"/>
<circle cx="188.50" cy="427.70" r="2.40" fill="#C8001A"/>
<circle cx="197.50" cy="421.90" r="2.40" fill="#C8001A"/>
<circle cx="206.50" cy="414.10" r="2.40" fill="#C8001A"/>
<circle cx="215.50" cy="405.50" r="2.40" fill="#C8001A"/>
<circle cx="224.50" cy="396.80" r="2.40" fill="#C8001A"/>
<circle cx="233.50" cy="386.70" r="2.40" fill="#C8001A"/>
<circle cx="242.50" cy="377.50" r="2.40" fill="#C8001A"/>
<circle cx="251.50" cy="366.00" r="2.40" fill="#C8001A"/>
<circle cx="260.50" cy="355.00" r="2.40" fill="#C8001A"/>
<circle cx="269.50" cy="343.50" r="2.40" fill="#C8001A"/>
<circle cx="278.50" cy="332.50" r="2.40" fill="#C8001A"/>
<circle cx="287.50" cy="318.90" r="2.40" fill="#C8001A"/>
<circle cx="296.50" cy="312.30" r="2.40" fill="#C8001A"/>
<circle cx="305.50" cy="309.70" r="2.40" fill="#C8001A"/>
<circle cx="314.50" cy="307.40" r="2.40" fill="#C8001A"/>
<circle cx="323.50" cy="305.10" r="2.40" fill="#C8001A"/>
<path d="M54.30,443.40 C55.67,442.62 59.63,440.14 62.50,438.74 C65.37,437.34 68.50,436.38 71.50,435.00 C74.50,433.62 77.50,432.10 80.50,430.47 C83.50,428.84 86.50,427.18 89.50,425.23 C92.50,423.28 95.50,421.18 98.50,418.77 C101.50,416.37 104.50,413.66 107.50,410.82 C110.50,407.97 113.50,404.83 116.50,401.71 C119.50,398.60 122.50,395.28 125.50,392.12 C128.50,388.96 131.50,385.79 134.50,382.74 C137.50,379.69 140.50,376.65 143.50,373.81 C146.50,370.97 149.50,368.19 152.50,365.69 C155.50,363.19 158.50,360.83 161.50,358.82 C164.50,356.81 167.50,355.08 170.50,353.63 C173.50,352.17 176.50,351.13 179.50,350.08 C182.50,349.02 185.50,348.19 188.50,347.30 C191.50,346.42 194.50,345.56 197.50,344.77 C200.50,343.99 203.50,343.28 206.50,342.61 C209.50,341.95 212.50,341.35 215.50,340.78 C218.50,340.21 221.50,339.68 224.50,339.20 C227.50,338.71 230.50,338.29 233.50,337.88 C236.50,337.47 239.50,337.12 242.50,336.74 C245.50,336.36 248.50,335.97 251.50,335.59 C254.50,335.20 257.50,334.79 260.50,334.42 C263.50,334.05 266.50,333.73 269.50,333.39 C272.50,333.05 275.50,332.73 278.50,332.38 C281.50,332.03 284.50,331.63 287.50,331.30 C290.50,330.97 293.50,330.61 296.50,330.40 C299.50,330.18 302.50,330.07 305.50,329.99 C308.50,329.91 311.50,329.92 314.50,329.91 C317.50,329.89 322.00,329.90 323.50,329.90" fill="none" stroke="#0234A2" stroke-width="1.90" stroke-linejoin="round"/>
<circle cx="54.30" cy="443.40" r="2.40" fill="#0234A2"/>
<circle cx="62.50" cy="439.20" r="2.40" fill="#0234A2"/>
<circle cx="71.50" cy="435.40" r="2.40" fill="#0234A2"/>
<circle cx="80.50" cy="430.60" r="2.40" fill="#0234A2"/>
<circle cx="89.50" cy="425.90" r="2.40" fill="#0234A2"/>
<circle cx="98.50" cy="419.80" r="2.40" fill="#0234A2"/>
<circle cx="107.50" cy="411.20" r="2.40" fill="#0234A2"/>
<circle cx="116.50" cy="402.30" r="2.40" fill="#0234A2"/>
<circle cx="125.50" cy="391.50" r="2.40" fill="#0234A2"/>
<circle cx="134.50" cy="382.90" r="2.40" fill="#0234A2"/>
<circle cx="143.50" cy="373.20" r="2.40" fill="#0234A2"/>
<circle cx="152.50" cy="365.20" r="2.40" fill="#0234A2"/>
<circle cx="161.50" cy="357.90" r="2.40" fill="#0234A2"/>
<circle cx="170.50" cy="352.50" r="2.40" fill="#0234A2"/>
<circle cx="179.50" cy="349.80" r="2.40" fill="#0234A2"/>
<circle cx="188.50" cy="347.50" r="2.40" fill="#0234A2"/>
<circle cx="197.50" cy="344.30" r="2.40" fill="#0234A2"/>
<circle cx="206.50" cy="342.60" r="2.40" fill="#0234A2"/>
<circle cx="215.50" cy="340.60" r="2.40" fill="#0234A2"/>
<circle cx="224.50" cy="339.10" r="2.40" fill="#0234A2"/>
<circle cx="233.50" cy="337.70" r="2.40" fill="#0234A2"/>
<circle cx="242.50" cy="336.80" r="2.40" fill="#0234A2"/>
<circle cx="251.50" cy="335.70" r="2.40" fill="#0234A2"/>
<circle cx="260.50" cy="334.20" r="2.40" fill="#0234A2"/>
<circle cx="269.50" cy="333.40" r="2.40" fill="#0234A2"/>
<circle cx="278.50" cy="332.50" r="2.40" fill="#0234A2"/>
<circle cx="287.50" cy="331.30" r="2.40" fill="#0234A2"/>
<circle cx="296.50" cy="329.90" r="2.40" fill="#0234A2"/>
<circle cx="305.50" cy="329.90" r="2.40" fill="#0234A2"/>
<circle cx="314.50" cy="329.90" r="2.40" fill="#0234A2"/>
<circle cx="323.50" cy="329.90" r="2.40" fill="#0234A2"/>
<text x="77.70" y="340.50" font-size="9.80" text-anchor="start" font-weight="normal" textLength="107.3" lengthAdjust="spacing" class="m" fill="#000">ZF plasma + 3’–26 RNA</text>
<line x1="161.70" y1="343.10" x2="165.60" y2="348.50" stroke="#000" stroke-width="1.50"/>
<path d="M168.70,352.80 L162.87,349.85 L167.74,346.34 Z" fill="#000"/>
<text x="244.90" y="303.60" font-size="9.80" text-anchor="middle" font-weight="normal" textLength="74.8" lengthAdjust="spacing" class="m" fill="#000">ZF plasma + CTI</text>
<text x="245.20" y="315.10" font-size="9.80" text-anchor="middle" font-weight="normal" textLength="56.8" lengthAdjust="spacing" class="m" fill="#000">+ 3’–26 RNA</text>
<line x1="279.50" y1="308.80" x2="283.98" y2="313.84" stroke="#000" stroke-width="1.50"/>
<path d="M287.50,317.80 L281.40,315.46 L285.89,311.47 Z" fill="#000"/>
<text x="291.20" y="407.00" font-size="9.80" text-anchor="middle" font-weight="normal" textLength="47.6" lengthAdjust="spacing" class="m" fill="#000">ZF plasma</text>
<line x1="288.20" y1="409.80" x2="288.20" y2="416.70" stroke="#000" stroke-width="1.50"/>
<path d="M288.20,422.00 L285.20,416.20 L291.20,416.20 Z" fill="#000"/>
<line x1="397.10" y1="276.20" x2="397.10" y2="442.40" stroke="#000" stroke-width="1.80"/>
<line x1="392.60" y1="441.50" x2="397.10" y2="441.50" stroke="#000" stroke-width="1.80"/>
<text x="388.50" y="445.00" font-size="10.00" text-anchor="end" font-weight="bold" letter-spacing="-0.10"  fill="#000">0</text>
<line x1="392.60" y1="386.70" x2="397.10" y2="386.70" stroke="#000" stroke-width="1.80"/>
<text x="388.50" y="390.20" font-size="10.00" text-anchor="end" font-weight="bold" letter-spacing="-0.10"  fill="#000">10</text>
<line x1="392.60" y1="331.90" x2="397.10" y2="331.90" stroke="#000" stroke-width="1.80"/>
<text x="388.50" y="335.40" font-size="10.00" text-anchor="end" font-weight="bold" letter-spacing="-0.10"  fill="#000">20</text>
<line x1="392.60" y1="277.10" x2="397.10" y2="277.10" stroke="#000" stroke-width="1.80"/>
<text x="388.50" y="280.60" font-size="10.00" text-anchor="end" font-weight="bold" letter-spacing="-0.10"  fill="#000">30</text>
<rect x="413.7" y="396.5" width="31.9" height="45.00" fill="#0234A2"/>
<rect x="461.9" y="315.8" width="31.2" height="125.60" fill="#C8001A"/>
<line x1="429.80" y1="393.60" x2="429.80" y2="397.00" stroke="#0234A2" stroke-width="1.60"/>
<line x1="422.40" y1="393.60" x2="437.20" y2="393.60" stroke="#0234A2" stroke-width="1.40"/>
<line x1="477.60" y1="305.60" x2="477.60" y2="316.50" stroke="#C8001A" stroke-width="1.60"/>
<line x1="470.10" y1="305.60" x2="484.80" y2="305.60" stroke="#C8001A" stroke-width="1.40"/>
<line x1="396.20" y1="441.50" x2="509.60" y2="441.50" stroke="#000" stroke-width="1.80"/>
<line x1="429.60" y1="441.50" x2="429.60" y2="446.00" stroke="#000" stroke-width="1.80"/>
<line x1="477.20" y1="441.50" x2="477.20" y2="446.00" stroke="#000" stroke-width="1.80"/>
<path d="M428.8,389.7 V285.9 H475.0 V301.5" fill="none" stroke="#000" stroke-width="1.5"/>
<polygon points="442.70,278.50 443.46,280.05 445.17,280.30 443.94,281.50 444.23,283.20 442.70,282.40 441.17,283.20 441.46,281.50 440.23,280.30 441.94,280.05" fill="#000"/>
<polygon points="448.10,278.50 448.86,280.05 450.57,280.30 449.34,281.50 449.63,283.20 448.10,282.40 446.57,283.20 446.86,281.50 445.63,280.30 447.34,280.05" fill="#000"/>
<polygon points="453.50,278.50 454.26,280.05 455.97,280.30 454.74,281.50 455.03,283.20 453.50,282.40 451.97,283.20 452.26,281.50 451.03,280.30 452.74,280.05" fill="#000"/>
<polygon points="458.90,278.50 459.66,280.05 461.37,280.30 460.14,281.50 460.43,283.20 458.90,282.40 457.37,283.20 457.66,281.50 456.43,280.30 458.14,280.05" fill="#000"/>
<text class="m2" transform="translate(352.6,362) rotate(-90)" font-size="12.5" text-anchor="middle" textLength="107.3" lengthAdjust="spacingAndGlyphs" fill="#000">Time to half maximal fibrin</text>
<text class="m2" transform="translate(368.3,362.7) rotate(-90)" font-size="12.5" text-anchor="middle" textLength="77.9" lengthAdjust="spacingAndGlyphs" fill="#000">formation (minutes)</text>
<text transform="translate(414.60,471.90) rotate(-45)" x="0" y="0" font-size="10.50" text-anchor="middle" font-weight="bold" fill="#000">ZF plasma</text>
<text transform="translate(425.60,479.90) rotate(-45)" x="0" y="0" font-size="10.50" text-anchor="middle" font-weight="bold" fill="#000">+ 3’–26 RNA</text>
<text transform="translate(452.00,483.25) rotate(-45)" x="0" y="0" font-size="10.50" text-anchor="middle" font-weight="bold" fill="#000">ZF plasma + CTI</text>
<text transform="translate(460.90,491.50) rotate(-45)" x="0" y="0" font-size="10.50" text-anchor="middle" font-weight="bold" fill="#000">+ 3’–26 RNA</text>
<line x1="88.30" y1="519.30" x2="88.30" y2="665.70" stroke="#000" stroke-width="1.80"/>
<line x1="83.80" y1="664.80" x2="88.30" y2="664.80" stroke="#000" stroke-width="1.80"/>
<text x="79.70" y="668.30" font-size="10.00" text-anchor="end" font-weight="bold" letter-spacing="-0.10"  fill="#000">15</text>
<line x1="83.80" y1="616.60" x2="88.30" y2="616.60" stroke="#000" stroke-width="1.80"/>
<text x="79.70" y="620.10" font-size="10.00" text-anchor="end" font-weight="bold" letter-spacing="-0.10"  fill="#000">20</text>
<line x1="83.80" y1="568.40" x2="88.30" y2="568.40" stroke="#000" stroke-width="1.80"/>
<text x="79.70" y="571.90" font-size="10.00" text-anchor="end" font-weight="bold" letter-spacing="-0.10"  fill="#000">25</text>
<line x1="83.80" y1="520.20" x2="88.30" y2="520.20" stroke="#000" stroke-width="1.80"/>
<text x="79.70" y="523.70" font-size="10.00" text-anchor="end" font-weight="bold" letter-spacing="-0.10"  fill="#000">30</text>
<line x1="87.40" y1="664.80" x2="184.70" y2="664.80" stroke="#000" stroke-width="1.80"/>
<line x1="115.60" y1="664.80" x2="115.60" y2="669.30" stroke="#000" stroke-width="1.80"/>
<line x1="157.00" y1="664.80" x2="157.00" y2="669.30" stroke="#000" stroke-width="1.80"/>
<path d="M115.6,539.0 V530.6 H157.0 V539.0" fill="none" stroke="#000" stroke-width="1.5"/>
<polygon points="128.00,522.40 128.76,523.95 130.47,524.20 129.24,525.40 129.53,527.10 128.00,526.30 126.47,527.10 126.76,525.40 125.53,524.20 127.24,523.95" fill="#000"/>
<polygon points="133.40,522.40 134.16,523.95 135.87,524.20 134.64,525.40 134.93,527.10 133.40,526.30 131.87,527.10 132.16,525.40 130.93,524.20 132.64,523.95" fill="#000"/>
<polygon points="138.80,522.40 139.56,523.95 141.27,524.20 140.04,525.40 140.33,527.10 138.80,526.30 137.27,527.10 137.56,525.40 136.33,524.20 138.04,523.95" fill="#000"/>
<polygon points="144.20,522.40 144.96,523.95 146.67,524.20 145.44,525.40 145.73,527.10 144.20,526.30 142.67,527.10 142.96,525.40 141.73,524.20 143.44,523.95" fill="#000"/>
<text class="m2" transform="translate(57.9,593.6) rotate(-90)" font-size="12.5" text-anchor="middle" textLength="110" lengthAdjust="spacingAndGlyphs" fill="#000">Time to occlusion (seconds)</text>
<line x1="101.9" y1="588.2" x2="129.6" y2="588.2" stroke="#000" stroke-width="3"/>
<line x1="143" y1="568.8" x2="171.2" y2="568.8" stroke="#000" stroke-width="3"/>
<line x1="106.50" y1="578.50" x2="125.00" y2="578.50" stroke="#C8001A" stroke-width="3.00" stroke-linecap="round"/>
<line x1="105.00" y1="588.20" x2="126.50" y2="588.20" stroke="#C8001A" stroke-width="3.00" stroke-linecap="round"/>
<line x1="103.40" y1="597.70" x2="128.10" y2="597.70" stroke="#C8001A" stroke-width="3.00" stroke-linecap="round"/>
<line x1="113.10" y1="607.20" x2="118.10" y2="607.20" stroke="#C8001A" stroke-width="3.00" stroke-linecap="round"/>
<line x1="114.70" y1="616.90" x2="116.50" y2="616.90" stroke="#C8001A" stroke-width="3.00" stroke-linecap="round"/>
<line x1="153.40" y1="549.50" x2="160.40" y2="549.50" stroke="#0234A2" stroke-width="3.00" stroke-linecap="round"/>
<line x1="150.70" y1="559.20" x2="163.50" y2="559.20" stroke="#0234A2" stroke-width="3.00" stroke-linecap="round"/>
<line x1="145.50" y1="568.80" x2="168.70" y2="568.80" stroke="#0234A2" stroke-width="3.00" stroke-linecap="round"/>
<line x1="149.60" y1="578.50" x2="164.60" y2="578.50" stroke="#0234A2" stroke-width="3.00" stroke-linecap="round"/>
<line x1="149.60" y1="588.20" x2="164.60" y2="588.20" stroke="#0234A2" stroke-width="3.00" stroke-linecap="round"/>
<line x1="156.20" y1="607.20" x2="157.80" y2="607.20" stroke="#0234A2" stroke-width="3.00" stroke-linecap="round"/>
<text transform="translate(99.30,701.30) rotate(-45)" x="0" y="0" font-size="10.20" text-anchor="middle" font-weight="bold" fill="#000">PBS-injected</text>
<text transform="translate(107.60,711.40) rotate(-45)" x="0" y="0" font-size="10.20" text-anchor="middle" font-weight="bold" fill="#000">larvae</text>
<text transform="translate(142.00,700.50) rotate(-45)" x="0" y="0" font-size="10.20" text-anchor="middle" font-weight="bold" fill="#000">CTI-injected</text>
<text transform="translate(151.60,710.60) rotate(-45)" x="0" y="0" font-size="10.20" text-anchor="middle" font-weight="bold" fill="#000">larvae</text>
<line x1="366.80" y1="526.60" x2="366.80" y2="666.50" stroke="#000" stroke-width="1.80"/>
<line x1="362.30" y1="665.60" x2="366.80" y2="665.60" stroke="#000" stroke-width="1.80"/>
<text x="358.20" y="669.10" font-size="10.00" text-anchor="end" font-weight="bold" letter-spacing="-0.10"  fill="#000">0</text>
<line x1="362.30" y1="619.60" x2="366.80" y2="619.60" stroke="#000" stroke-width="1.80"/>
<text x="358.20" y="623.10" font-size="10.00" text-anchor="end" font-weight="bold" letter-spacing="-0.10"  fill="#000">50</text>
<line x1="362.30" y1="573.60" x2="366.80" y2="573.60" stroke="#000" stroke-width="1.80"/>
<text x="358.20" y="577.10" font-size="10.00" text-anchor="end" font-weight="bold" letter-spacing="-0.10"  fill="#000">100</text>
<line x1="362.30" y1="527.60" x2="366.80" y2="527.60" stroke="#000" stroke-width="1.80"/>
<text x="358.20" y="531.10" font-size="10.00" text-anchor="end" font-weight="bold" letter-spacing="-0.10"  fill="#000">150</text>
<line x1="365.90" y1="665.60" x2="508.50" y2="665.60" stroke="#000" stroke-width="1.80"/>
<line x1="407.10" y1="665.60" x2="407.10" y2="670.10" stroke="#000" stroke-width="1.80"/>
<line x1="467.70" y1="665.60" x2="467.70" y2="670.10" stroke="#000" stroke-width="1.80"/>
<path d="M406.7,541.5 V535.0 H467.2 V541.5" fill="none" stroke="#000" stroke-width="1.5"/>
<polygon points="428.20,527.20 428.96,528.75 430.67,529.00 429.44,530.20 429.73,531.90 428.20,531.10 426.67,531.90 426.96,530.20 425.73,529.00 427.44,528.75" fill="#000"/>
<polygon points="433.60,527.20 434.36,528.75 436.07,529.00 434.84,530.20 435.13,531.90 433.60,531.10 432.07,531.90 432.36,530.20 431.13,529.00 432.84,528.75" fill="#000"/>
<polygon points="439.00,527.20 439.76,528.75 441.47,529.00 440.24,530.20 440.53,531.90 439.00,531.10 437.47,531.90 437.76,530.20 436.53,529.00 438.24,528.75" fill="#000"/>
<polygon points="444.40,527.20 445.16,528.75 446.87,529.00 445.64,530.20 445.93,531.90 444.40,531.10 442.87,531.90 443.16,530.20 441.93,529.00 443.64,528.75" fill="#000"/>
<text class="m2" transform="translate(330.4,597.5) rotate(-90)" font-size="12.5" text-anchor="middle" textLength="110.4" lengthAdjust="spacingAndGlyphs" fill="#000">Time to occlusion (seconds)</text>
<line x1="447.40" y1="555.30" x2="487.80" y2="555.30" stroke="#0234A2" stroke-width="2.40"/>
<line x1="386.8" y1="596.4" x2="427.0" y2="596.4" stroke="#222" stroke-width="1.3"/>
<ellipse cx="407.0" cy="596.3" rx="4.8" ry="3.3" fill="#C8001A"/>
<circle cx="388.00" cy="597.05" r="1.6" fill="#C8001A"/>
<circle cx="389.40" cy="596.81" r="1.6" fill="#C8001A"/>
<circle cx="390.80" cy="597.51" r="1.6" fill="#C8001A"/>
<circle cx="392.20" cy="596.70" r="1.6" fill="#C8001A"/>
<circle cx="393.60" cy="597.35" r="1.6" fill="#C8001A"/>
<circle cx="395.00" cy="597.11" r="1.6" fill="#C8001A"/>
<circle cx="396.40" cy="596.68" r="1.6" fill="#C8001A"/>
<circle cx="397.80" cy="597.31" r="1.6" fill="#C8001A"/>
<circle cx="399.20" cy="596.65" r="1.6" fill="#C8001A"/>
<circle cx="400.60" cy="597.21" r="1.6" fill="#C8001A"/>
<circle cx="402.00" cy="596.70" r="1.6" fill="#C8001A"/>
<circle cx="403.40" cy="596.73" r="1.6" fill="#C8001A"/>
<circle cx="404.80" cy="597.19" r="1.6" fill="#C8001A"/>
<circle cx="406.20" cy="597.76" r="1.6" fill="#C8001A"/>
<circle cx="407.60" cy="596.77" r="1.6" fill="#C8001A"/>
<circle cx="409.00" cy="596.91" r="1.6" fill="#C8001A"/>
<circle cx="410.40" cy="597.48" r="1.6" fill="#C8001A"/>
<circle cx="411.80" cy="597.93" r="1.6" fill="#C8001A"/>
<circle cx="413.20" cy="597.41" r="1.6" fill="#C8001A"/>
<circle cx="414.60" cy="597.16" r="1.6" fill="#C8001A"/>
<circle cx="416.00" cy="597.97" r="1.6" fill="#C8001A"/>
<circle cx="417.40" cy="596.67" r="1.6" fill="#C8001A"/>
<circle cx="418.80" cy="597.80" r="1.6" fill="#C8001A"/>
<circle cx="420.20" cy="597.01" r="1.6" fill="#C8001A"/>
<circle cx="421.60" cy="596.80" r="1.6" fill="#C8001A"/>
<circle cx="423.00" cy="596.76" r="1.6" fill="#C8001A"/>
<circle cx="424.40" cy="597.03" r="1.6" fill="#C8001A"/>
<circle cx="425.80" cy="597.74" r="1.6" fill="#C8001A"/>
<circle cx="402.50" cy="594.50" r="1.6" fill="#C8001A"/>
<circle cx="404.50" cy="593.30" r="1.6" fill="#C8001A"/>
<circle cx="406.50" cy="593.00" r="1.6" fill="#C8001A"/>
<circle cx="408.50" cy="593.30" r="1.6" fill="#C8001A"/>
<circle cx="410.50" cy="594.20" r="1.6" fill="#C8001A"/>
<circle cx="412.50" cy="595.30" r="1.6" fill="#C8001A"/>
<circle cx="403.50" cy="597.00" r="1.6" fill="#C8001A"/>
<circle cx="405.50" cy="596.50" r="1.6" fill="#C8001A"/>
<circle cx="407.50" cy="596.50" r="1.6" fill="#C8001A"/>
<circle cx="409.50" cy="597.00" r="1.6" fill="#C8001A"/>
<circle cx="411.50" cy="597.30" r="1.6" fill="#C8001A"/>
<circle cx="404.80" cy="599.30" r="1.6" fill="#C8001A"/>
<circle cx="407.00" cy="599.50" r="1.6" fill="#C8001A"/>
<circle cx="409.00" cy="599.00" r="1.6" fill="#C8001A"/>
<circle cx="406.20" cy="601.80" r="1.6" fill="#C8001A"/>
<circle cx="406.50" cy="603.20" r="1.6" fill="#C8001A"/>
<circle cx="387.20" cy="596.30" r="0.7" fill="#333"/>
<circle cx="419.00" cy="596.10" r="0.7" fill="#333"/>
<circle cx="467.50" cy="592.60" r="1.70" fill="#0234A2"/>
<circle cx="466.50" cy="595.60" r="1.70" fill="#0234A2"/>
<circle cx="469.60" cy="596.20" r="1.80" fill="#0234A2"/>
<circle cx="464.40" cy="597.60" r="1.70" fill="#0234A2"/>
<circle cx="468.00" cy="602.30" r="1.50" fill="#0234A2"/>
<circle cx="466.70" cy="603.60" r="1.50" fill="#0234A2"/>
<circle cx="466.90" cy="606.20" r="1.60" fill="#0234A2"/>
<circle cx="468.80" cy="606.10" r="1.60" fill="#0234A2"/>
<text transform="translate(389.40,702.20) rotate(-45)" x="0" y="0" font-size="10.20" text-anchor="middle" font-weight="bold" fill="#000">PBS-injected</text>
<text transform="translate(399.20,711.20) rotate(-45)" x="0" y="0" font-size="10.20" text-anchor="middle" font-weight="bold" fill="#000">larvae</text>
<text transform="translate(452.50,701.40) rotate(-45)" x="0" y="0" font-size="10.20" text-anchor="middle" font-weight="bold" fill="#000">CTI-injected</text>
<text transform="translate(463.00,709.80) rotate(-45)" x="0" y="0" font-size="10.20" text-anchor="middle" font-weight="bold" fill="#000">larvae</text>
</svg>
</body></html>
